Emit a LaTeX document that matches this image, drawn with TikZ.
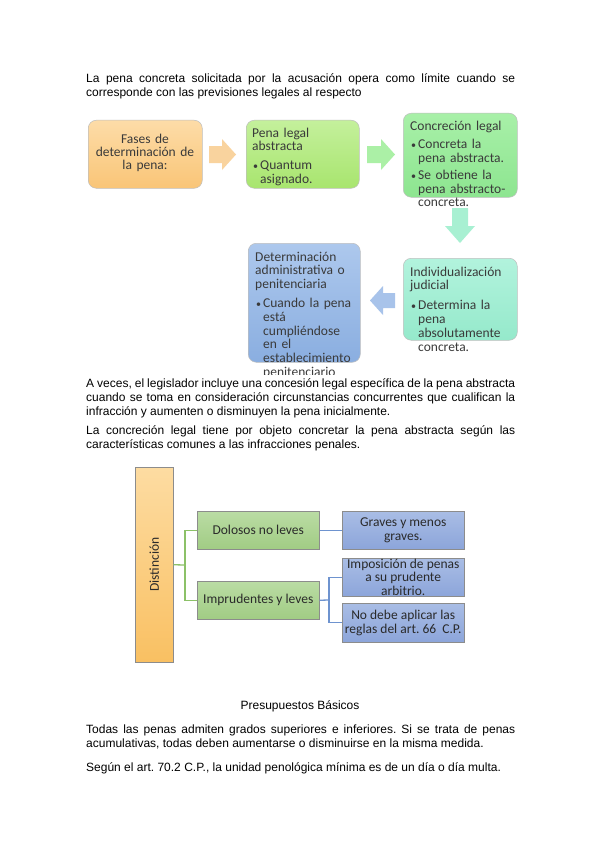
\documentclass[tikz,border=0pt]{standalone}
\usepackage{fontspec}
\setmainfont{Liberation Sans}
\newfontfamily\sa{Carlito}
\frenchspacing
\definecolor{txt}{HTML}{3A3A3A}
\definecolor{txtb}{HTML}{2A2A2A}
\definecolor{oTop}{HTML}{FDDCA8}\definecolor{oBot}{HTML}{F9C577}
\definecolor{gTop}{HTML}{C4F09C}\definecolor{gBot}{HTML}{A8E56E}
\definecolor{cTop}{HTML}{A8F0A8}\definecolor{cBot}{HTML}{8DE590}
\definecolor{mTop}{HTML}{B2F3DD}\definecolor{mBot}{HTML}{95E9CB}
\definecolor{bTop}{HTML}{ADC8ED}\definecolor{bBot}{HTML}{8AAEE0}
\definecolor{aOne}{HTML}{F9D39E}\definecolor{aTwo}{HTML}{ABF0A6}
\definecolor{aThree}{HTML}{A8F0D2}\definecolor{aFour}{HTML}{A8C3EA}
\definecolor{dTop}{HTML}{FDDCA2}\definecolor{dBot}{HTML}{F9C062}
\definecolor{grTop}{HTML}{BADCA4}\definecolor{grBot}{HTML}{A1CC84}
\definecolor{blTop}{HTML}{A9BDE5}\definecolor{blBot}{HTML}{8CA5DA}
\definecolor{lnG}{HTML}{8CC168}\definecolor{lnB}{HTML}{6E93CF}
\newcommand{\bul}{\hspace*{1pt}\makebox[7pt][l]{\fontsize{10}{10}\selectfont •}}
\newcommand{\bin}{\hspace*{8pt}}
\begin{document}
\begin{tikzpicture}[x=1pt,y=-1pt,
  body/.style={inner sep=0pt, anchor=base west, text width=429pt, align=justify, font=\fontsize{12}{14}\selectfont},
  sbox/.style={rounded corners=8pt, draw=black!25, line width=0.5pt, inner sep=0pt, anchor=north west},
  stext/.style={inner sep=0pt, anchor=base west, align=left, text width=110pt, text=txt, font=\sa\fontsize{13.5}{13.8}\selectfont},
  flat/.style={draw=black!45, line width=0.5pt, inner sep=0pt, anchor=north west, align=center, text=txtb, font=\sa\fontsize{13.5}{14}\selectfont},
  link/.style={line width=1.3pt},
]
\useasboundingbox[fill=white] (0,0) rectangle (599,848);

% paragraph 1
\node[body] (p1) at (86,83) {La pena concreta solicitada por la acusación opera como límite cuando se\linebreak corresponde con las previsiones legales al respecto};

% top diagram boxes
\node[sbox, top color=oTop, bottom color=oBot, minimum width=114pt, minimum height=68pt] (b1) at (88,120) {};
\node[sbox, top color=gTop, bottom color=gBot, minimum width=113pt, minimum height=68pt] (b2) at (246,120) {};
\node[sbox, top color=cTop, bottom color=cBot, minimum width=114pt, minimum height=84pt] (b3) at (403,113) {};
\node[sbox, top color=mTop, bottom color=mBot, minimum width=114pt, minimum height=82pt] (b4) at (403,258) {};
\node[sbox, top color=bTop, bottom color=bBot, minimum width=112pt, minimum height=119pt] (b5) at (248,243) {};

% block arrows
\fill[aOne] (209,146) -- (222,146) -- (222,139) -- (236,154.5) -- (222,170) -- (222,163) -- (209,163) -- cycle;
\fill[aTwo] (367,146) -- (381,146) -- (381,139) -- (395,154.5) -- (381,170) -- (381,163) -- (367,163) -- cycle;
\fill[aThree] (452,208) -- (468,208) -- (468,226) -- (475,226) -- (460,243) -- (445,226) -- (452,226) -- cycle;
\fill[aFour] (395,293) -- (383,293) -- (383,286) -- (370,300.5) -- (383,315) -- (383,308) -- (395,308) -- cycle;

% box texts
\node[inner sep=0pt, align=center, text width=110pt, text=txt, font=\sa\fontsize{13.5}{13}\selectfont] (t1) at (145,153) {Fases de\\determinación de\\la pena:};
\node[stext] (t2) at (252,137) {Pena legal\\abstracta\\[5pt]\bul Quantum\\\bin asignado.};
\node[stext] (t3) at (410,131) {Concreción legal\\[4pt]\bul Concreta la\\\bin pena abstracta.\\[3pt]\bul Se obtiene la\\\bin pena abstracto-\\\bin concreta.};
\node[stext] (t4) at (410,276) {Individualización\\judicial\\[6pt]\bul Determina la\\\bin pena\\\bin absolutamente\\\bin concreta.};
\begin{scope}
\clip (240,230) rectangle (372,374.5);
\node[stext] (t5) at (255,261) {Determinación\\administrativa o\\penitenciaria\\[5pt]\bul Cuando la pena\\\bin está\\\bin cumpliéndose\\\bin en el\\\bin establecimiento\\\bin penitenciario};
\end{scope}

% paragraphs 2 and 3
\node[body] (p2) at (86,387) {A veces, el legislador incluye una concesión legal específica de la pena abstracta\linebreak cuando se toma en consideración circunstancias concurrentes que cualifican la\linebreak infracción y aumenten o disminuyen la pena inicialmente.};
\node[body] (p3) at (86,434) {La concreción legal tiene por objeto concretar la pena abstracta según las\linebreak características comunes a las infracciones penales.};

% second diagram
\node[flat, top color=dTop, bottom color=dBot, minimum width=38pt, minimum height=195pt] (dist) at (135,467) {};
\node[rotate=90, inner sep=0pt, text=txtb, font=\sa\fontsize{13.5}{14}\selectfont] (distl) at (dist.center) {Distinción};
\node[flat, top color=grTop, bottom color=grBot, minimum width=122pt, minimum height=38pt] (g1) at (197,511) {Dolosos no leves};
\node[flat, top color=grTop, bottom color=grBot, minimum width=122pt, minimum height=38pt] (g2) at (197,581) {Imprudentes y leves};
\node[flat, top color=blTop, bottom color=blBot, minimum width=122pt, minimum height=38pt] (k1) at (342,511) {Graves y menos\\graves.};
\node[flat, top color=blTop, bottom color=blBot, minimum width=122pt, minimum height=38pt, font=\sa\fontsize{13.5}{13.5}\selectfont] (k2) at (342,558) {Imposición de penas\\a su prudente\\arbitrio.};
\node[flat, top color=blTop, bottom color=blBot, minimum width=122pt, minimum height=39pt] (k3) at (342,603) {No debe aplicar las\\reglas del art. 66~ C.P.};

\coordinate (jg) at (185,565);
\coordinate (jb) at (329,600);
\draw[link, lnG] (dist.east) -- (jg);
\draw[link, lnG] (jg) |- (g1.west);
\draw[link, lnG] (jg) |- (g2.west);
\draw[link, lnB] (g1.east) -- (k1.west);
\draw[link, lnB] (g2.east) -- (jb);
\draw[link, lnB] (jb) |- (k2.west);
\draw[link, lnB] (jb) |- (k3.west);

% bottom text
\node[inner sep=0pt, anchor=base, font=\fontsize{12}{14}\selectfont] (title) at (300,709) {Presupuestos Básicos};
\node[body] (p4) at (86,733) {Todas las penas admiten grados superiores e inferiores. Si se trata de penas\linebreak acumulativas, todas deben aumentarse o disminuirse en la misma medida.};
\node[body] (p5) at (86,771) {Según el art. 70.2 C.P., la unidad penológica mínima es de un día o día multa.};
\end{tikzpicture}
\end{document}
